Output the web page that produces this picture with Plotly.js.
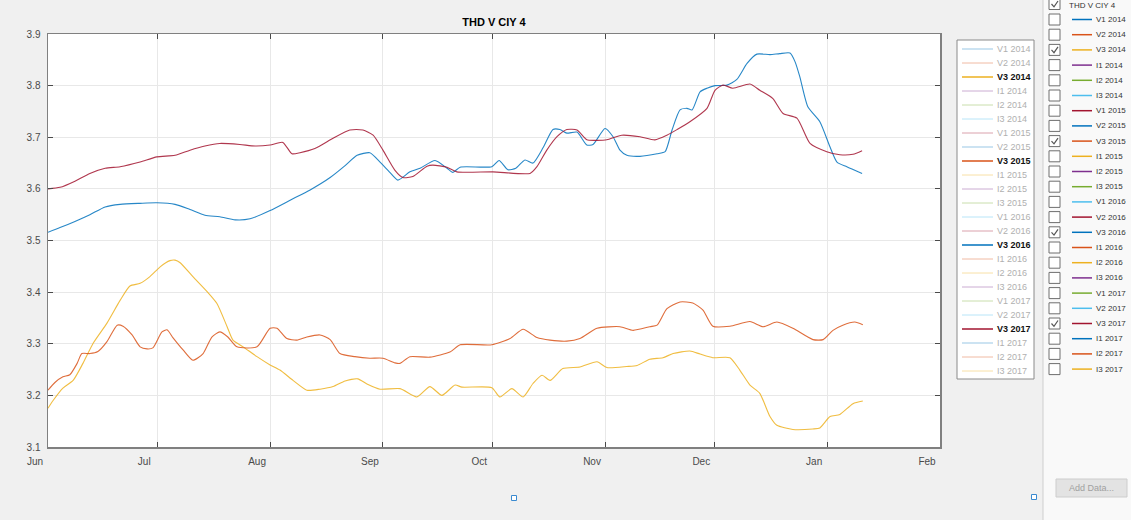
<!DOCTYPE html>
<html><head><meta charset="utf-8">
<script src="https://cdn.plot.ly/plotly-3.0.1.min.js"></script>
<style>html,body{margin:0;padding:0;background:#f0f0f0;}#chart{width:1131px;height:520px;}</style>
</head><body><div id="chart"></div>
<script>
// ---- series names / colours (MATLAB default colour order) ----
const seriesNames = ['V1 2014','V2 2014','V3 2014','I1 2014','I2 2014','I3 2014',
  'V1 2015','V2 2015','V3 2015','I1 2015','I2 2015','I3 2015',
  'V1 2016','V2 2016','V3 2016','I1 2016','I2 2016','I3 2016',
  'V1 2017','V2 2017','V3 2017','I1 2017','I2 2017','I3 2017'];
const colorOrder = ['#0072BD','#D95319','#EDB120','#7E2F8E','#77AC30','#4DBEEE','#A2142F'];
const shownSeries = ['V3 2014','V3 2015','V3 2016','V3 2017'];
const chartTitle = 'THD V CIY 4';
const panelTitle = 'THD V CIY 4';

// ---- data: days since 1 Jun, THD value ----
const v3_2014_day = [0,1.4,4.1,6.9,9.6,12.4,16.2,19.8,22.5,25.3,28.0,30.8,33.5,34.9,36.3,39.8,43.7,46.4,49.2,50.8,53.6,57.4,61.0,63.7,67.3,71.1,74.7,78.3,81.6,85.1,87.6,91.2,96.7,101.3,104.9,108.2,111.8,113.7,121.9,124.1,127.4,130.5,133.2,135.7,137.9,141.4,146.1,150.8,153.5,159.0,161.8,165.3,168.9,171.7,176.3,179.1,182.6,187.3,190.0,192.8,195.5,198.3,200.2,204.6,210.1,212.0,214.8,217.5,221.1,223.8];
const v3_2014_val = [3.175,3.190,3.214,3.229,3.262,3.301,3.340,3.384,3.412,3.417,3.430,3.449,3.461,3.462,3.457,3.430,3.401,3.378,3.333,3.307,3.294,3.275,3.259,3.249,3.229,3.210,3.212,3.217,3.228,3.232,3.222,3.212,3.213,3.197,3.217,3.200,3.220,3.216,3.215,3.197,3.213,3.197,3.223,3.239,3.229,3.252,3.255,3.265,3.254,3.256,3.258,3.270,3.273,3.281,3.286,3.280,3.273,3.273,3.249,3.220,3.204,3.159,3.142,3.134,3.135,3.137,3.159,3.163,3.184,3.189];

const v3_2015_day = [0,1.9,4.1,6.0,8.0,9.3,11.5,13.7,16.2,19.0,20.6,23.1,25.3,27.2,28.8,31.3,32.7,34.3,37.1,39.8,42.6,45.0,47.2,49.4,51.9,57.4,61.0,62.9,65.6,68.4,71.1,74.7,77.5,80.2,84.3,88.4,92.0,95.3,96.7,99.4,104.9,110.4,113.2,121.9,126.9,130.5,134.3,137.9,142.5,146.1,150.8,157.1,160.7,165.3,167.3,170.0,173.6,177.1,179.9,182.6,187.3,192.8,196.4,200.2,204.6,210.1,212.9,215.6,218.3,221.6,223.8];
const v3_2015_val = [3.210,3.225,3.236,3.240,3.262,3.281,3.281,3.285,3.304,3.336,3.334,3.317,3.294,3.290,3.292,3.323,3.327,3.312,3.288,3.268,3.281,3.313,3.323,3.313,3.294,3.294,3.330,3.330,3.310,3.307,3.313,3.317,3.308,3.281,3.275,3.272,3.272,3.263,3.262,3.275,3.274,3.284,3.298,3.298,3.310,3.328,3.312,3.307,3.305,3.310,3.330,3.333,3.326,3.333,3.336,3.368,3.381,3.379,3.365,3.334,3.334,3.343,3.333,3.342,3.330,3.308,3.308,3.326,3.336,3.342,3.337];

const v3_2016_day = [0,3.3,7.4,11.5,15.7,19.8,25.3,29.9,34.9,39.0,43.1,47.2,51.4,55.5,61.0,66.5,72.0,77.5,81.6,84.9,88.4,91.2,93.9,96.1,99.4,102.2,106.3,109.6,111.2,113.2,121.9,123.9,126.3,128.5,131.0,133.2,136.0,138.7,140.6,142.5,145.3,148.0,149.7,153.0,155.2,157.1,159.0,162.6,167.3,169.5,171.4,173.6,175.5,176.9,179.1,181.0,183.2,186.5,189.2,192.0,194.7,198.3,201.0,203.8,205.2,206.5,208.7,212.0,214.8,216.7,219.4,223.6];
const v3_2016_val = [3.516,3.525,3.537,3.550,3.565,3.570,3.572,3.573,3.570,3.560,3.549,3.546,3.540,3.542,3.558,3.578,3.598,3.622,3.645,3.665,3.670,3.652,3.632,3.617,3.633,3.640,3.655,3.640,3.632,3.642,3.643,3.655,3.637,3.640,3.656,3.650,3.680,3.715,3.715,3.708,3.710,3.685,3.686,3.717,3.701,3.675,3.665,3.663,3.668,3.672,3.714,3.753,3.756,3.753,3.788,3.795,3.800,3.801,3.812,3.843,3.861,3.860,3.862,3.863,3.846,3.817,3.759,3.730,3.681,3.652,3.643,3.630];

const v3_2017_day = [0,3.3,7.4,11.5,15.7,19.8,25.3,29.9,34.9,39.0,43.1,47.2,52.7,56.9,61.0,64.5,67.0,69.2,73.3,78.3,82.9,86.5,89.3,92.0,95.3,97.5,100.2,104.1,105.7,109.6,112.3,122.2,132.4,134.3,137.0,139.8,142.5,145.3,148.0,150.8,153.5,157.6,162.6,166.7,170.0,172.8,176.3,181.0,183.2,185.4,188.1,192.8,195.5,199.1,201.9,205.7,209.3,213.9,217.5,221.1,223.6];
const v3_2017_val = [3.600,3.603,3.615,3.630,3.640,3.643,3.652,3.662,3.665,3.675,3.683,3.688,3.686,3.683,3.685,3.690,3.668,3.670,3.678,3.698,3.714,3.714,3.704,3.675,3.636,3.622,3.624,3.644,3.646,3.642,3.633,3.633,3.630,3.643,3.675,3.701,3.715,3.714,3.695,3.694,3.695,3.704,3.701,3.695,3.704,3.715,3.730,3.756,3.791,3.801,3.795,3.803,3.791,3.775,3.746,3.737,3.688,3.672,3.666,3.667,3.674];

const xRange = ['2015-06-01','2016-02-01'];
const yRange = [3.1, 3.9];

// ---- build ----
const base = Date.UTC(2015,5,1);
const toMs = d => base + d*86400000;
const colorOf = name => colorOrder[seriesNames.indexOf(name) % colorOrder.length];
const plotted = [
  {name:'V3 2014', day:v3_2014_day, val:v3_2014_val},
  {name:'V3 2015', day:v3_2015_day, val:v3_2015_val},
  {name:'V3 2016', day:v3_2016_day, val:v3_2016_val},
  {name:'V3 2017', day:v3_2017_day, val:v3_2017_val}
];
const traces = plotted.map(s => ({
  type:'scatter', mode:'lines', name:s.name,
  x:s.day.map(toMs), y:s.val,
  line:{color:colorOf(s.name), width:1.1, shape:'spline', smoothing:0.6},
  opacity:0.85, showlegend:false, hoverinfo:'x+y+name'
}));

const L=48,R=940,T=34,B=447;
const px = p => (p-L)/(R-L);
const py = p => (B-p)/(B-T);
function fade(hex, f){
  const n=parseInt(hex.slice(1),16);
  const r=(n>>16)&255,g=(n>>8)&255,b=n&255;
  const m=c=>Math.round(c+(255-c)*f);
  return 'rgb('+m(r)+','+m(g)+','+m(b)+')';
}
const shapes=[], annotations=[];
const uiFont = 'Liberation Sans, Arial, sans-serif';
// right-hand panel
shapes.push({type:'rect',xref:'paper',yref:'paper',x0:px(1043),x1:px(1140),y0:py(530),y1:py(-10),fillcolor:'#f9f9f9',line:{color:'#cfcfcf',width:1},layer:'above'});
// in-axes legend box
shapes.push({type:'rect',xref:'paper',yref:'paper',x0:px(957),x1:px(1034),y0:py(379),y1:py(40),fillcolor:'#ffffff',line:{color:'#8a8a8a',width:1},layer:'above'});
seriesNames.forEach((nm,i)=>{
  const y=49+14*i, shown=shownSeries.includes(nm), c=colorOf(nm);
  shapes.push({type:'line',xref:'paper',yref:'paper',x0:px(962),x1:px(993),y0:py(y),y1:py(y),line:{color:shown?c:fade(c,0.6),width:shown?1.5:1},layer:'above'});
  annotations.push({xref:'paper',yref:'paper',x:px(995),y:py(y),xanchor:'left',yanchor:'middle',showarrow:false,
    text:shown?'<b>'+nm+'</b>':nm,font:{family:uiFont,size:9,color:shown?'#111':'#b0b0b0'}});
});
// panel rows
function checkbox(y, checked){
  shapes.push({type:'rect',xref:'paper',yref:'paper',x0:px(1049),x1:px(1060),y0:py(y+5.5),y1:py(y-5.5),fillcolor:'#ffffff',line:{color:'#6e6e6e',width:1},layer:'above'});
  if(checked){
    shapes.push({type:'path',xref:'paper',yref:'paper',
      path:'M '+px(1051.5)+' '+py(y)+' L '+px(1054)+' '+py(y+2.8)+' L '+px(1058)+' '+py(y-3),
      line:{color:'#555',width:1.2},layer:'above'});
  }
}
checkbox(4, true);
annotations.push({xref:'paper',yref:'paper',x:px(1067),y:py(5.5),xanchor:'left',yanchor:'middle',showarrow:false,
  text:panelTitle,font:{family:uiFont,size:8,color:'#333'}});
seriesNames.forEach((nm,i)=>{
  const y=19.5+15.2*i, shown=shownSeries.includes(nm), c=colorOf(nm);
  checkbox(y, shown);
  shapes.push({type:'line',xref:'paper',yref:'paper',x0:px(1072),x1:px(1092),y0:py(y),y1:py(y),line:{color:c,width:1.5},layer:'above'});
  annotations.push({xref:'paper',yref:'paper',x:px(1094),y:py(y),xanchor:'left',yanchor:'middle',showarrow:false,
    text:nm,font:{family:uiFont,size:8,color:'#333'}});
});
// Add Data button
shapes.push({type:'rect',xref:'paper',yref:'paper',x0:px(1056),x1:px(1127),y0:py(497),y1:py(479),fillcolor:'#e3e3e3',line:{color:'#cdcdcd',width:1},layer:'above'});
annotations.push({xref:'paper',yref:'paper',x:px(1091),y:py(488),xanchor:'center',yanchor:'middle',showarrow:false,
  text:'Add Data...',font:{family:uiFont,size:9,color:'#a0a0a0'}});
// resize handles
[[514,498],[1034,497]].forEach(([cx,cy])=>{
  shapes.push({type:'rect',xref:'paper',yref:'paper',x0:px(cx-2.5),x1:px(cx+2.5),y0:py(cy+2.5),y1:py(cy-2.5),fillcolor:'#ffffff',line:{color:'#3a8ad0',width:1},layer:'above'});
});

const axisFont = {family:'Liberation Sans, Arial, sans-serif', size:10, color:'#4a4a4a'};
const layout = {
  width:1131, height:520,
  margin:{l:L, r:1131-R, t:T, b:520-B, pad:0},
  paper_bgcolor:'#f0f0f0', plot_bgcolor:'#ffffff',
  showlegend:false,
  title:{text:'<b>'+chartTitle+'</b>', x:px(494), xref:'paper', xanchor:'center', y:1-22/520, yref:'container', yanchor:'middle',
    font:{family:'Liberation Sans, Arial, sans-serif', size:11, color:'#000'}},
  xaxis:{type:'date', range:xRange, dtick:'M1', tick0:'2015-06-01', tickformat:'%b',
    ticks:'inside', ticklen:5, tickcolor:'#4a4a4a', tickwidth:1,
    showline:true, linecolor:'#808080', linewidth:1.5, mirror:'ticks',
    showgrid:true, gridcolor:'#e8e8e8', gridwidth:1, zeroline:false,
    tickfont:axisFont, ticklabelshift:-13, ticklabelstandoff:4},
  yaxis:{range:yRange, dtick:0.1, tick0:3.1, tickformat:'.1f',
    ticks:'inside', ticklen:5, tickcolor:'#4a4a4a', tickwidth:1,
    showline:true, linecolor:'#808080', linewidth:1.5, mirror:'ticks',
    showgrid:true, gridcolor:'#e8e8e8', gridwidth:1, zeroline:false,
    tickfont:axisFont, ticklabelstandoff:4},
  shapes:shapes, annotations:annotations
};
Plotly.newPlot('chart', traces, layout, {displayModeBar:false, staticPlot:true});
</script>
</body></html>
